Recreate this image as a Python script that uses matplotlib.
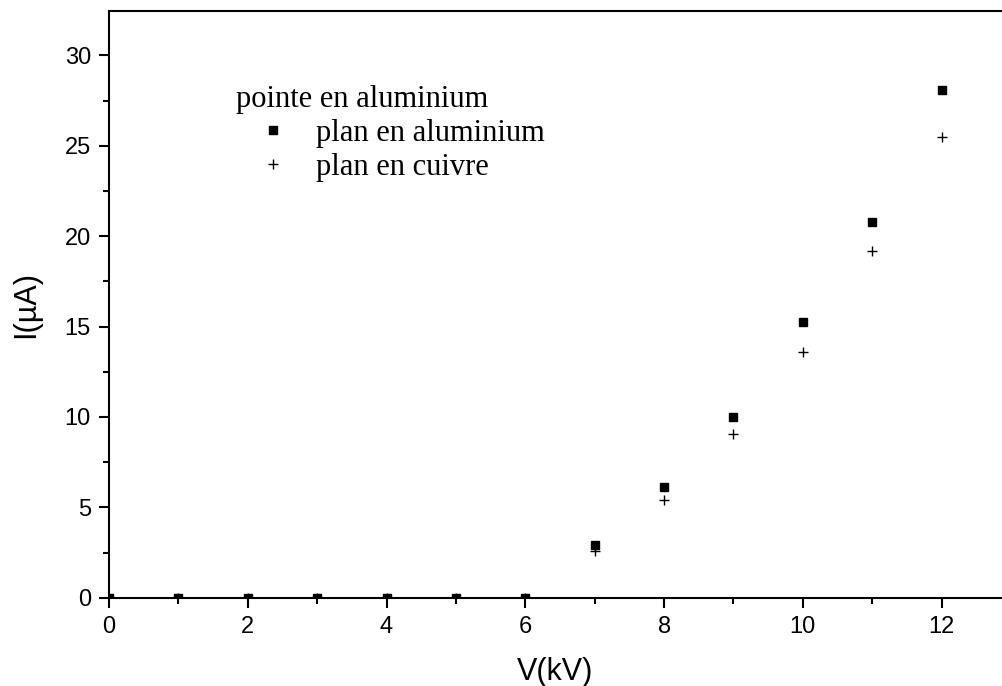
import matplotlib
matplotlib.use("Agg")
import matplotlib.pyplot as plt
from matplotlib.ticker import MultipleLocator

V_kV = [0, 1, 2, 3, 4, 5, 6, 7, 8, 9, 10, 11, 12]
I_plan_aluminium = [0, 0, 0, 0, 0, 0, 0, 2.9, 6.1, 10.0, 15.25, 20.8, 28.1]
I_plan_cuivre = [0, 0, 0, 0, 0, 0, 0, 2.6, 5.4, 9.05, 13.6, 19.2, 25.5]

legend_title = "pointe en aluminium"
label_al = "plan en aluminium"
label_cu = "plan en cuivre"

plt.rcParams['font.family'] = ['Liberation Sans', 'DejaVu Sans']

fig = plt.figure(figsize=(10.02, 6.86), dpi=100)
ax = fig.add_axes([109/1002, 1 - 597.7/686, (1002-109)/1002, (597.7-10.7)/686])

ax.plot(V_kV, I_plan_aluminium, linestyle='none', marker='s', markersize=6,
        color='black', label=label_al, zorder=3)
ax.plot(V_kV, I_plan_cuivre, linestyle='none', marker='+', markersize=7,
        markeredgewidth=1.0, color='black', label=label_cu, zorder=3)

ax.set_xlim(0, 12.87)
ax.set_ylim(0, 32.47)
ax.xaxis.set_major_locator(MultipleLocator(2))
ax.xaxis.set_minor_locator(MultipleLocator(1))
ax.yaxis.set_major_locator(MultipleLocator(5))
ax.yaxis.set_minor_locator(MultipleLocator(2.5))

for s in ['left', 'bottom', 'top']:
    ax.spines[s].set_linewidth(1.5)
ax.spines['right'].set_visible(False)
ax.tick_params(which='major', direction='out', length=7, width=1.5, labelsize=17, pad=6)
ax.tick_params(which='minor', direction='out', length=4, width=1.5)
ax.tick_params(top=False, right=False)

ax.set_xlabel("V(kV)", fontsize=22, labelpad=14)
ax.set_ylabel("I(µA)", fontsize=22, labelpad=17)

leg = ax.legend(title=legend_title, loc='upper left', bbox_to_anchor=(0.134, 0.886),
                frameon=False, alignment='left',
                prop={'family': 'Liberation Serif', 'size': 22},
                title_fontproperties={'family': 'Liberation Serif', 'size': 22},
                handlelength=2.42, handletextpad=0.2, labelspacing=0.17,
                borderpad=0.23, borderaxespad=0.0)

fig.savefig("out.png", dpi=100)
